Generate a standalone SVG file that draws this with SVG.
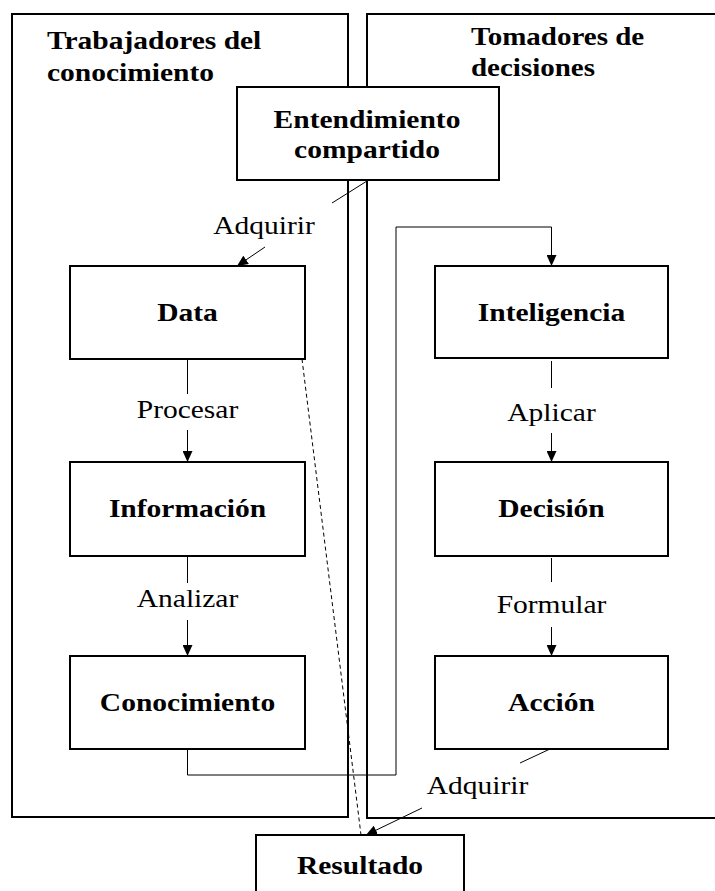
<svg xmlns="http://www.w3.org/2000/svg" width="715" height="891" viewBox="0 0 715 891">
  <style>
    .panel { fill: none; stroke: #000; stroke-width: 2; }
    .box { fill: #fff; stroke: #000; stroke-width: 2; }
    .link { fill: none; stroke: #000; stroke-width: 1; }
    .dash { fill: none; stroke: #000; stroke-width: 1; stroke-dasharray: 4 3; }
    .t { font-family: "Liberation Serif", "Times New Roman", serif; font-size: 25px; fill: #000; }
    .b { font-weight: bold; }
    .m { text-anchor: middle; }
  </style>
  <defs>
    <marker id="arrow" markerUnits="userSpaceOnUse" markerWidth="12" markerHeight="10" refX="11" refY="5" orient="auto">
      <path d="M0,0 L11,5 L0,10 z" fill="#000"/>
    </marker>
  </defs>

  <rect width="715" height="891" fill="#fff"/>

  <!-- two swimlanes -->
  <g id="lane-trabajadores">
    <rect class="panel" x="12" y="14" width="336" height="803"/>
    <text class="t b" transform="translate(47,49) scale(1.18,1)">Trabajadores del</text>
    <text class="t b" transform="translate(47,81) scale(1.18,1)">conocimiento</text>
  </g>
  <g id="lane-tomadores">
    <rect class="panel" x="367" y="14" width="360" height="804"/>
    <text class="t b" transform="translate(471,45) scale(1.16,1)">Tomadores de</text>
    <text class="t b" transform="translate(471,76) scale(1.16,1)">decisiones</text>
  </g>

  <!-- connectors -->
  <g id="connectors">
    <!-- Entendimiento compartido -> Data -->
    <line class="link" x1="367" y1="181" x2="332" y2="203"/>
    <line class="link" x1="265" y1="247" x2="237" y2="266" marker-end="url(#arrow)"/>
    <text class="t" transform="translate(264,234) scale(1.18,1)" text-anchor="middle">Adquirir</text>

    <!-- Data -> Informacion -->
    <line class="link" x1="187.5" y1="359" x2="187.5" y2="394"/>
    <line class="link" x1="187.5" y1="430" x2="187.5" y2="462" marker-end="url(#arrow)"/>
    <text class="t m" transform="translate(187.5,418) scale(1.18,1)">Procesar</text>

    <!-- Informacion -> Conocimiento -->
    <line class="link" x1="187.5" y1="556" x2="187.5" y2="583"/>
    <line class="link" x1="187.5" y1="620" x2="187.5" y2="656" marker-end="url(#arrow)"/>
    <text class="t m" transform="translate(187.5,607) scale(1.18,1)">Analizar</text>

    <!-- Conocimiento -> Inteligencia -->
    <polyline class="link" points="187.5,749 187.5,775 396,775 396,227 551.5,227 551.5,266" marker-end="url(#arrow)"/>

    <!-- Inteligencia -> Decision -->
    <line class="link" x1="551.5" y1="361" x2="551.5" y2="388"/>
    <line class="link" x1="551.5" y1="433" x2="551.5" y2="462" marker-end="url(#arrow)"/>
    <text class="t m" transform="translate(551.5,421) scale(1.18,1)">Aplicar</text>

    <!-- Decision -> Accion -->
    <line class="link" x1="551.5" y1="558" x2="551.5" y2="582"/>
    <line class="link" x1="551.5" y1="627" x2="551.5" y2="656" marker-end="url(#arrow)"/>
    <text class="t m" transform="translate(551.5,613) scale(1.18,1)">Formular</text>

    <!-- Accion -> Resultado -->
    <line class="link" x1="550" y1="749" x2="520" y2="763"/>
    <line class="link" x1="422" y1="808" x2="366" y2="835" marker-end="url(#arrow)"/>
    <text class="t m" transform="translate(477.5,794) scale(1.18,1)">Adquirir</text>

    <!-- Data .. Resultado -->
    <line class="dash" x1="302" y1="359" x2="361" y2="835"/>
  </g>

  <!-- nodes -->
  <g id="entendimiento">
    <rect class="box" x="237" y="87" width="262" height="93"/>
    <text class="t b m" transform="translate(367,128) scale(1.18,1)">Entendimiento</text>
    <text class="t b m" transform="translate(367,158) scale(1.18,1)">compartido</text>
  </g>
  <g id="data">
    <rect class="box" x="70" y="266" width="235" height="93"/>
    <text class="t b m" transform="translate(187.5,321) scale(1.18,1)">Data</text>
  </g>
  <g id="informacion">
    <rect class="box" x="70" y="462" width="235" height="94"/>
    <text class="t b m" transform="translate(187.5,517) scale(1.18,1)">Información</text>
  </g>
  <g id="conocimiento">
    <rect class="box" x="70" y="656" width="235" height="93"/>
    <text class="t b m" transform="translate(187.5,711) scale(1.18,1)">Conocimiento</text>
  </g>
  <g id="inteligencia">
    <rect class="box" x="435" y="266" width="233" height="92"/>
    <text class="t b m" transform="translate(551.5,321) scale(1.18,1)">Inteligencia</text>
  </g>
  <g id="decision">
    <rect class="box" x="435" y="462" width="233" height="94"/>
    <text class="t b m" transform="translate(551.5,517) scale(1.18,1)">Decisión</text>
  </g>
  <g id="accion">
    <rect class="box" x="435" y="656" width="233" height="93"/>
    <text class="t b m" transform="translate(551.5,711) scale(1.18,1)">Acción</text>
  </g>
  <g id="resultado">
    <rect class="box" x="256" y="835" width="208" height="70"/>
    <text class="t b m" transform="translate(360,874) scale(1.18,1)">Resultado</text>
  </g>
</svg>
